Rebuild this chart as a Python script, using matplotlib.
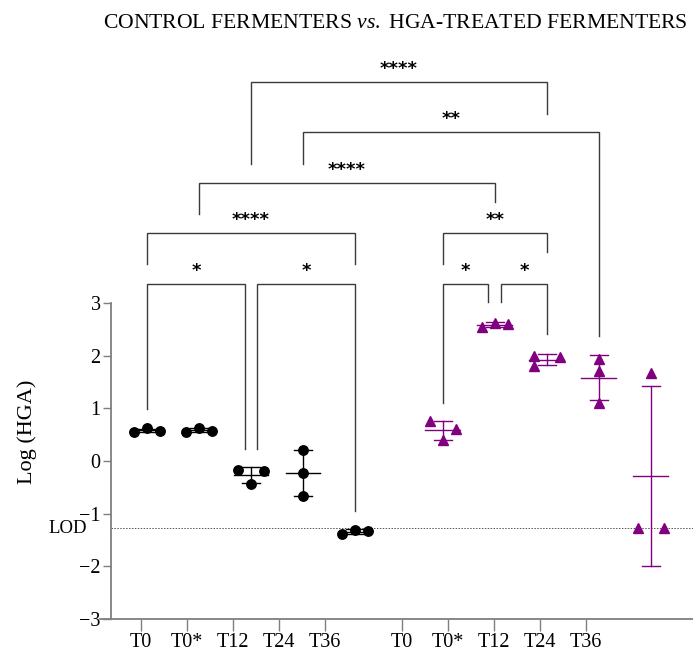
import numpy as np
import matplotlib
matplotlib.use("Agg")
import matplotlib.pyplot as plt
import matplotlib.transforms as mtransforms

plt.rcParams['font.family'] = ['Liberation Serif', 'DejaVu Serif']
plt.rcParams['mathtext.fontset'] = 'custom'
plt.rcParams['mathtext.rm'] = 'Liberation Serif'
plt.rcParams['mathtext.it'] = 'Liberation Serif:italic'

# ---- data -------------------------------------------------------------
timepoints = ["T0", "T0*", "T12", "T24", "T36"]

control_log_hga = [
    [0.56, 0.62, 0.57],     # T0
    [0.55, 0.63, 0.57],     # T0*
    [-0.17, -0.44, -0.19],  # T12
    [0.20, -0.23, -0.66],   # T24
    [-1.39, -1.31, -1.32],  # T36
]
treated_log_hga = [
    [0.76, 0.39, 0.60],     # T0
    [2.54, 2.62, 2.61],     # T0*
    [1.99, 1.80, 1.97],     # T12
    [1.93, 1.71, 1.10],     # T24
    [1.68, -1.28, -1.28],   # T36
]
lod = -1.28

# significance labels for each comparison
sig_labels = ["*", "*", "****", "*", "*", "**", "****", "**", "****"]

# ---- layout -----------------------------------------------------------
group_gap = 5.69                       # x of first treated column
swarm_step = 0.25
control_swarm = [[-1, 0, 1], [-1, 0, 1], [-1, 0, 1], [0, 0, 0], [-1, 0, 1]]
treated_swarm = [[-1, 0, 1], [-1, 0, 1], [-1, -1, 1], [0, 0, 0], [0, -1, 1]]
tick_step = 0.885
control_tick0 = -0.115
treated_tick0 = 4.904

purple = "#800080"
axis_grey = "#7f7f7f"

fig = plt.figure(figsize=(6.93, 6.59), dpi=100)
ax = fig.add_axes([111 / 693, 1 - 619 / 659, 582 / 693, 316 / 659])


def col_x(group, i):
    return i if group == 0 else group_gap + i


def draw_group(group, values, swarm, color, marker, ms):
    for i, vals in enumerate(values):
        x0 = col_x(group, i)
        v = np.asarray(vals, dtype=float)
        m = v.mean()
        sd = v.std(ddof=1)
        ax.plot([x0 - 0.335, x0 + 0.335], [m, m], color=color, lw=1, zorder=2)
        ax.plot([x0, x0], [m - sd, m + sd], color=color, lw=1, zorder=2)
        for yy in (m - sd, m + sd):
            ax.plot([x0 - 0.17, x0 + 0.17], [yy, yy], color=color, lw=1, zorder=2)
        xs = x0 + swarm_step * np.asarray(swarm[i])
        ax.plot(xs, v, ls="none", marker=marker, ms=ms, color=color,
                mec=color, zorder=3, clip_on=False)


draw_group(0, control_log_hga, control_swarm, "black", "o", 6.8)
draw_group(1, treated_log_hga, treated_swarm, purple, "^", 7.2)

# limit of detection
ax.axhline(lod, color="#555555", lw=0.7, ls=(0, (1.5, 1.5)), zorder=1)
trans_lod = mtransforms.blended_transform_factory(ax.transAxes, ax.transData)
ax.text(-0.041, lod, "LOD", transform=trans_lod, ha="right", va="center",
        fontsize=13.5)

# axes styling
ax.set_xlim(-0.692, 10.5)
ax.set_ylim(-3, 3)
ax.set_yticks(np.arange(-3, 4, 1))
ticks = [control_tick0 + tick_step * k for k in range(5)] + \
        [treated_tick0 + tick_step * k for k in range(5)]
ax.set_xticks(ticks)
ax.set_xticklabels(timepoints + timepoints)
for s in ("top", "right", "bottom"):
    ax.spines[s].set_visible(False)
ax.spines["left"].set_color(axis_grey)
ax.spines["left"].set_linewidth(1.3)
ax.plot([-0.904, 10.5], [-3, -3], color=axis_grey, lw=1.3, clip_on=False,
        zorder=1)
ax.tick_params(axis="y", direction="out", length=6, width=1, color=axis_grey,
               pad=1.5, labelsize=14.5)
ax.tick_params(axis="x", direction="out", length=8.8, width=1, color=axis_grey,
               pad=1, labelsize=14.5)
ax.set_ylabel("Log (HGA)", fontsize=16)
ax.yaxis.set_label_coords(-0.127, 0.592)

# significance brackets: (x_left, x_right, bar_y, left_leg_end, right_leg_end)
brackets = [
    (col_x(0, 0), col_x(0, 2) - 0.115, 3.36, 0.99, 0.23),
    (col_x(0, 2) + 0.115, col_x(0, 4), 3.36, 0.23, -0.95),
    (col_x(0, 0), col_x(0, 4), 4.33, 3.74, 3.74),
    (col_x(1, 0), col_x(1, 1) - 0.13, 3.36, 1.10, 3.02),
    (col_x(1, 1) + 0.115, col_x(1, 2), 3.36, 3.02, 2.41),
    (col_x(1, 0), col_x(1, 2), 4.33, 3.74, 3.97),
    (col_x(0, 1), col_x(1, 1), 5.28, 4.69, 4.91),
    (col_x(0, 3), col_x(1, 3), 6.24, 5.64, 2.37),
    (col_x(0, 2), col_x(1, 2), 7.19, 5.64, 6.58),
]
for (xl, xr, yb, yl, yr), lab in zip(brackets, sig_labels):
    ax.plot([xl, xl, xr, xr], [yl, yb, yb, yr], color="#3a3a3a", lw=1,
            clip_on=False, zorder=1, solid_joinstyle="miter")
    ax.text((xl + xr) / 2, yb + 0.25, lab, ha="center", va="center",
            fontsize=13, fontweight="bold", family="DejaVu Sans",
            clip_on=False)

fig.text(395 / 693, 1 - 28 / 659,
         r"CONTROL FERMENTERS $\mathit{vs.}$ HGA-TREATED FERMENTERS",
         ha="center", va="baseline", fontsize=15.6)

fig.savefig("out.png", dpi=100)
